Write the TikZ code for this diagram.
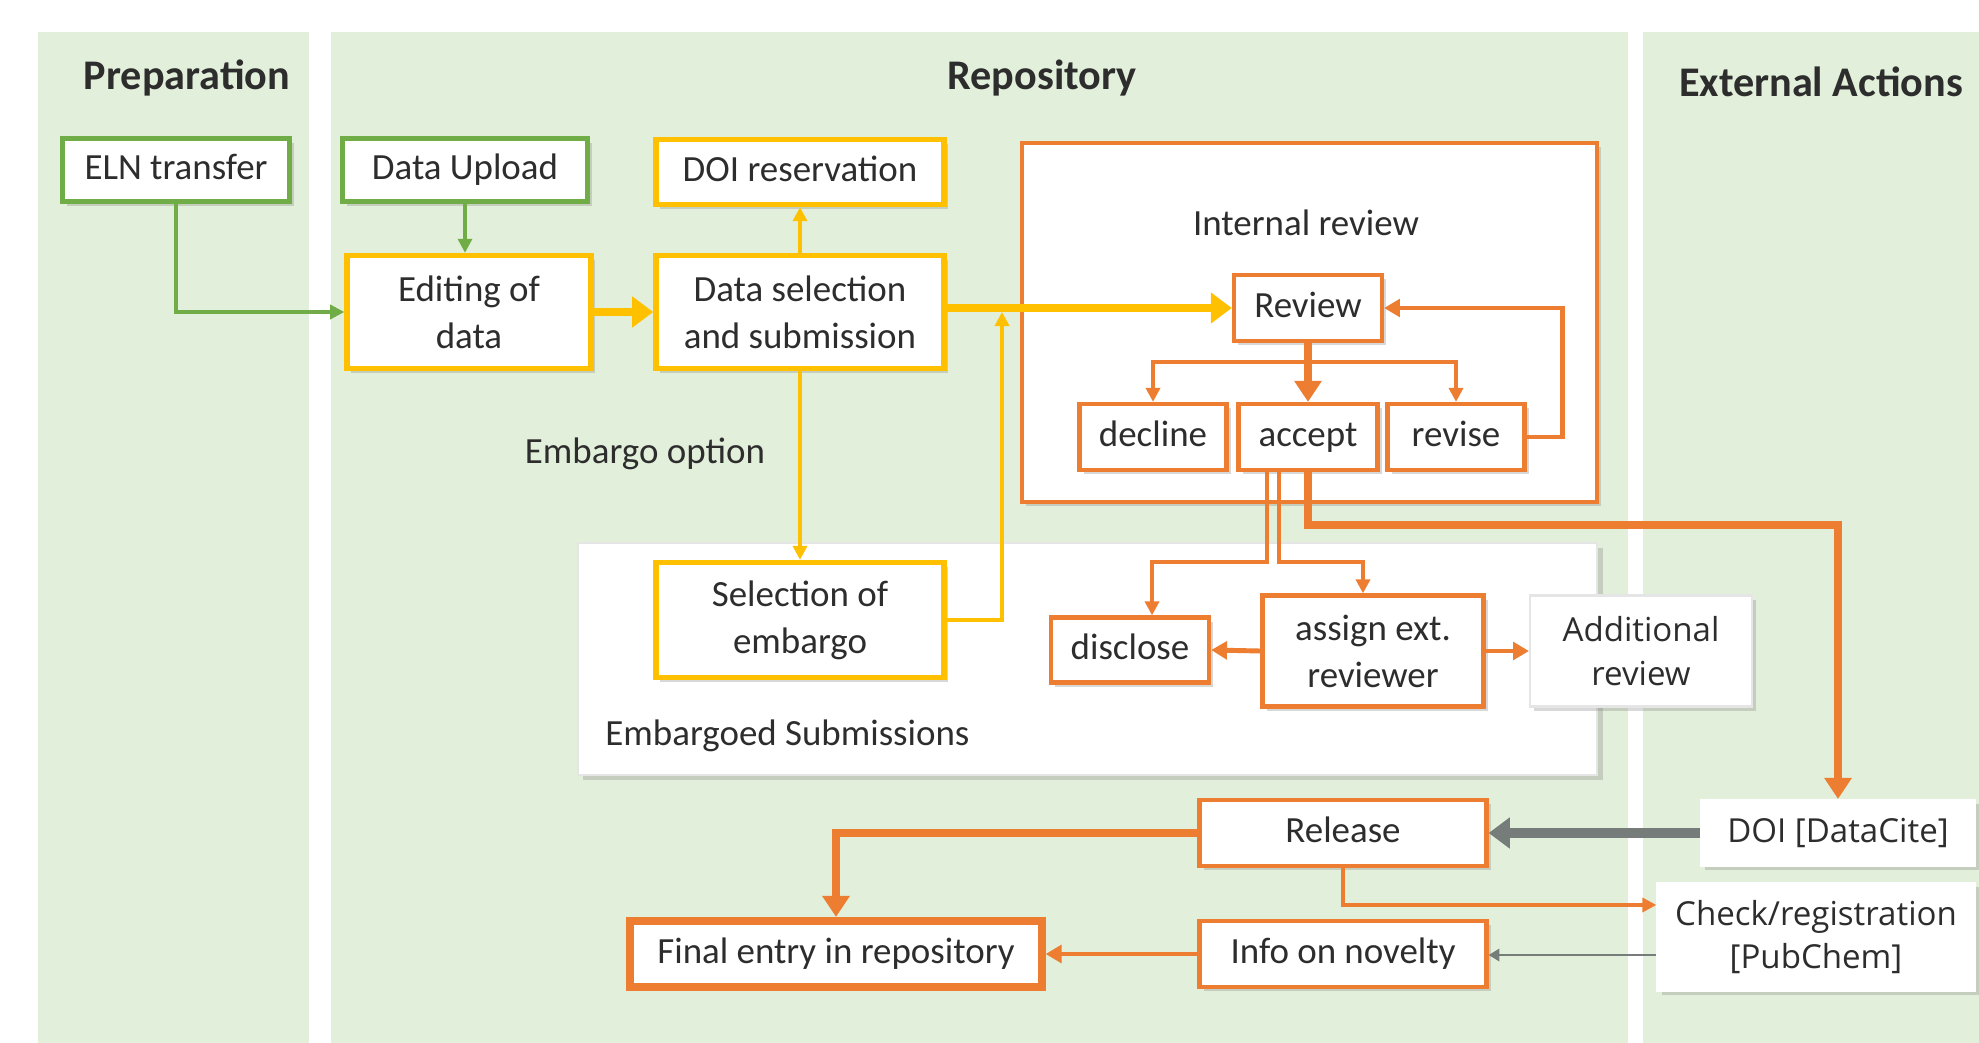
\documentclass[tikz,border=0pt]{standalone}
\usepackage{fontspec}
\setmainfont{Carlito}
\newfontfamily\extfont{Open Sans}
\usetikzlibrary{arrows.meta,positioning,shadows}
\definecolor{wfgreen}{RGB}{112,173,71}
\definecolor{wfgold}{RGB}{255,192,0}
\definecolor{wforange}{RGB}{237,125,49}
\definecolor{wfgray}{RGB}{118,124,122}
\definecolor{wfpanel}{RGB}{226,239,218}
\definecolor{wftext}{RGB}{45,45,45}

\begin{document}
\begin{tikzpicture}[x=0.01cm,y=-0.01cm,
  box/.style={draw,fill=white,inner sep=0pt,align=center,text=wftext,
              font=\fontsize{10.5}{13.4}\selectfont,line width=1.2pt,
              drop shadow={shadow xshift=1.2pt,shadow yshift=-1.2pt,opacity=0.3}},
  oneline/.style={text height=1.6ex,text depth=0.45ex},
  gbox/.style={box,draw=wfgreen},
  ybox/.style={box,draw=wfgold,line width=1.5pt},
  obox/.style={box,draw=wforange},
  xbox/.style={box,draw=black!10,line width=0.6pt,
               font=\extfont\fontsize{9.4}{12.4}\selectfont},
  group/.style={fill=white,inner sep=0pt},
  title/.style={font=\fontsize{12}{14}\selectfont\bfseries,text=wftext},
  lbl/.style={font=\fontsize{10.5}{13}\selectfont,text=wftext},
  garr/.style={-{Triangle[length=4pt,width=4pt]},line width=0.9pt,wfgreen},
  yarr/.style={-{Triangle[length=4pt,width=4pt]},line width=1.1pt,wfgold},
  ythick/.style={-{Triangle[length=6pt,width=8.5pt]},line width=2.2pt,wfgold},
  oarr/.style={-{Triangle[length=4pt,width=4pt]},line width=1pt,wforange},
  omed/.style={-{Triangle[length=4.5pt,width=5pt]},line width=1.4pt,wforange},
  othick/.style={-{Triangle[length=6pt,width=7.5pt]},line width=2.3pt,wforange},
  grarr/.style={-{Triangle[length=6pt,width=8.5pt]},line width=2.6pt,wfgray},
  grthin/.style={-{Triangle[length=3pt,width=3.5pt]},line width=0.6pt,wfgray}
]
  \useasboundingbox (0,0) rectangle (1979,1043);
  % swim lanes
  \fill[wfpanel] (38,32) rectangle (309,1043);
  \fill[wfpanel] (331,32) rectangle (1628,1043);
  \fill[wfpanel] (1643,32) rectangle (1979,1043);
  \node[title] (tprep) at (187,78) {Preparation};
  \node[title] (trepo) at (1042,78) {Repository};
  \node[title] (text) at (1821,82) {External Actions};

  % groups
  \node[group,draw=wforange,line width=1.2pt,minimum width=5.75cm,minimum height=3.59cm,
        drop shadow={shadow xshift=1.2pt,shadow yshift=-1.2pt,opacity=0.3}] (intbox) at (1309.5,322.5) {};
  \node[lbl] (intlbl) at (1306,223) {Internal review};
  \node[group,draw=black!10,line width=0.6pt,minimum width=10.19cm,minimum height=2.32cm,
        drop shadow={shadow xshift=1.5pt,shadow yshift=-1.5pt,opacity=0.3}] (embbox) at (1087.5,659) {};
  \node[lbl,anchor=west] (emblbl) at (593,736) {Embargoed Submissions};

  % nodes
  \node[gbox,oneline,minimum width=2.27cm,minimum height=0.63cm] (eln) at (176,170) {ELN transfer};
  \node[gbox,oneline,minimum width=2.45cm,minimum height=0.63cm] (upload) at (465,170) {Data Upload};
  \node[ybox,oneline,minimum width=2.88cm,minimum height=0.65cm] (doires) at (800,172) {DOI reservation};
  \node[ybox,minimum width=2.44cm,minimum height=1.13cm] (editing) at (469,312) {Editing of\\data};
  \node[ybox,minimum width=2.88cm,minimum height=1.13cm] (datasel) at (800,312) {Data selection\\and submission};
  \node[ybox,minimum width=2.88cm,minimum height=1.15cm] (selemb) at (800,620) {Selection of\\embargo};
  \node[lbl] (emblopt) at (645,454) {Embargo option};

  \node[obox,oneline,minimum width=1.48cm,minimum height=0.66cm] (review) at (1308,308) {Review};
  \node[obox,oneline,minimum width=1.47cm,minimum height=0.66cm] (decline) at (1153,437) {decline};
  \node[obox,oneline,minimum width=1.39cm,minimum height=0.66cm] (accept) at (1308,437) {accept};
  \node[obox,oneline,minimum width=1.37cm,minimum height=0.66cm] (revise) at (1456,437) {revise};

  \node[obox,oneline,minimum width=1.58cm,minimum height=0.65cm] (disclose) at (1130,650) {disclose};
  \node[obox,minimum width=2.21cm,minimum height=1.11cm] (assign) at (1373,651) {assign ext.\\reviewer};
  \node[xbox,minimum width=2.22cm,minimum height=1.11cm] (addrev) at (1641,651) {Additional\\review};

  \node[xbox,oneline,draw=white,minimum width=2.74cm,minimum height=0.66cm] (doidc) at (1838,833) {DOI [DataCite]};
  \node[xbox,draw=white,minimum width=3.17cm,minimum height=1.08cm] (check) at (1816,937) {Check/registration\\{}[PubChem]};
  \node[obox,oneline,minimum width=2.87cm,minimum height=0.66cm] (release) at (1343,833) {Release};
  \node[obox,oneline,minimum width=2.87cm,minimum height=0.66cm] (info) at (1343,954) {Info on novelty};
  \node[obox,oneline,line width=2.3pt,minimum width=4.11cm,minimum height=0.66cm] (final) at (836,954) {Final entry in repository};

  % connectors
  \coordinate (embjoin) at (1002,312);
  \coordinate (rvsplit) at (1308,362);
  \coordinate (chkin) at ([yshift=-1.8mm]check.west);
  \draw[garr] (eln.south) |- (editing.west);
  \draw[garr] (upload.south) -- (editing.north -| upload.south);
  \draw[ythick] (editing.east) -- (datasel.west);
  \draw[yarr] (datasel.north) -- (doires.south);
  \draw[ythick] (datasel.east |- review.west) -- (review.west);
  \draw[yarr] (datasel.south) -- (selemb.north);
  \draw[yarr] (selemb.east) -| (embjoin);
  \draw[othick] (review.south) -- (accept.north);
  \draw[oarr] (rvsplit) -| (decline.north);
  \draw[oarr] (rvsplit) -| (revise.north);
  \draw[omed] (revise.east) -- ++(36,0) |- (review.east);
  \draw[oarr] ([xshift=-4.1mm]accept.south) -- ++(0,90) -| ([xshift=2.2mm]disclose.north);
  \draw[oarr] ([xshift=-2.9mm]accept.south) -- ++(0,90) -| ([xshift=-1mm]assign.north);
  \draw[othick] (accept.south) -- ++(0,53) -| (doidc.north);
  \draw[omed] (assign.west) -- (disclose.east);
  \draw[omed] (assign.east) -- (addrev.west);
  \draw[grarr] (doidc.west) -- (release.east);
  \draw[othick] (release.west) -| (final.north);
  \draw[oarr] (release.south) |- ([yshift=3.2mm]check.west);
  \draw[grthin] (chkin) -- (info.east |- chkin);
  \draw[omed] (info.west) -- (final.east);
\end{tikzpicture}
\end{document}
